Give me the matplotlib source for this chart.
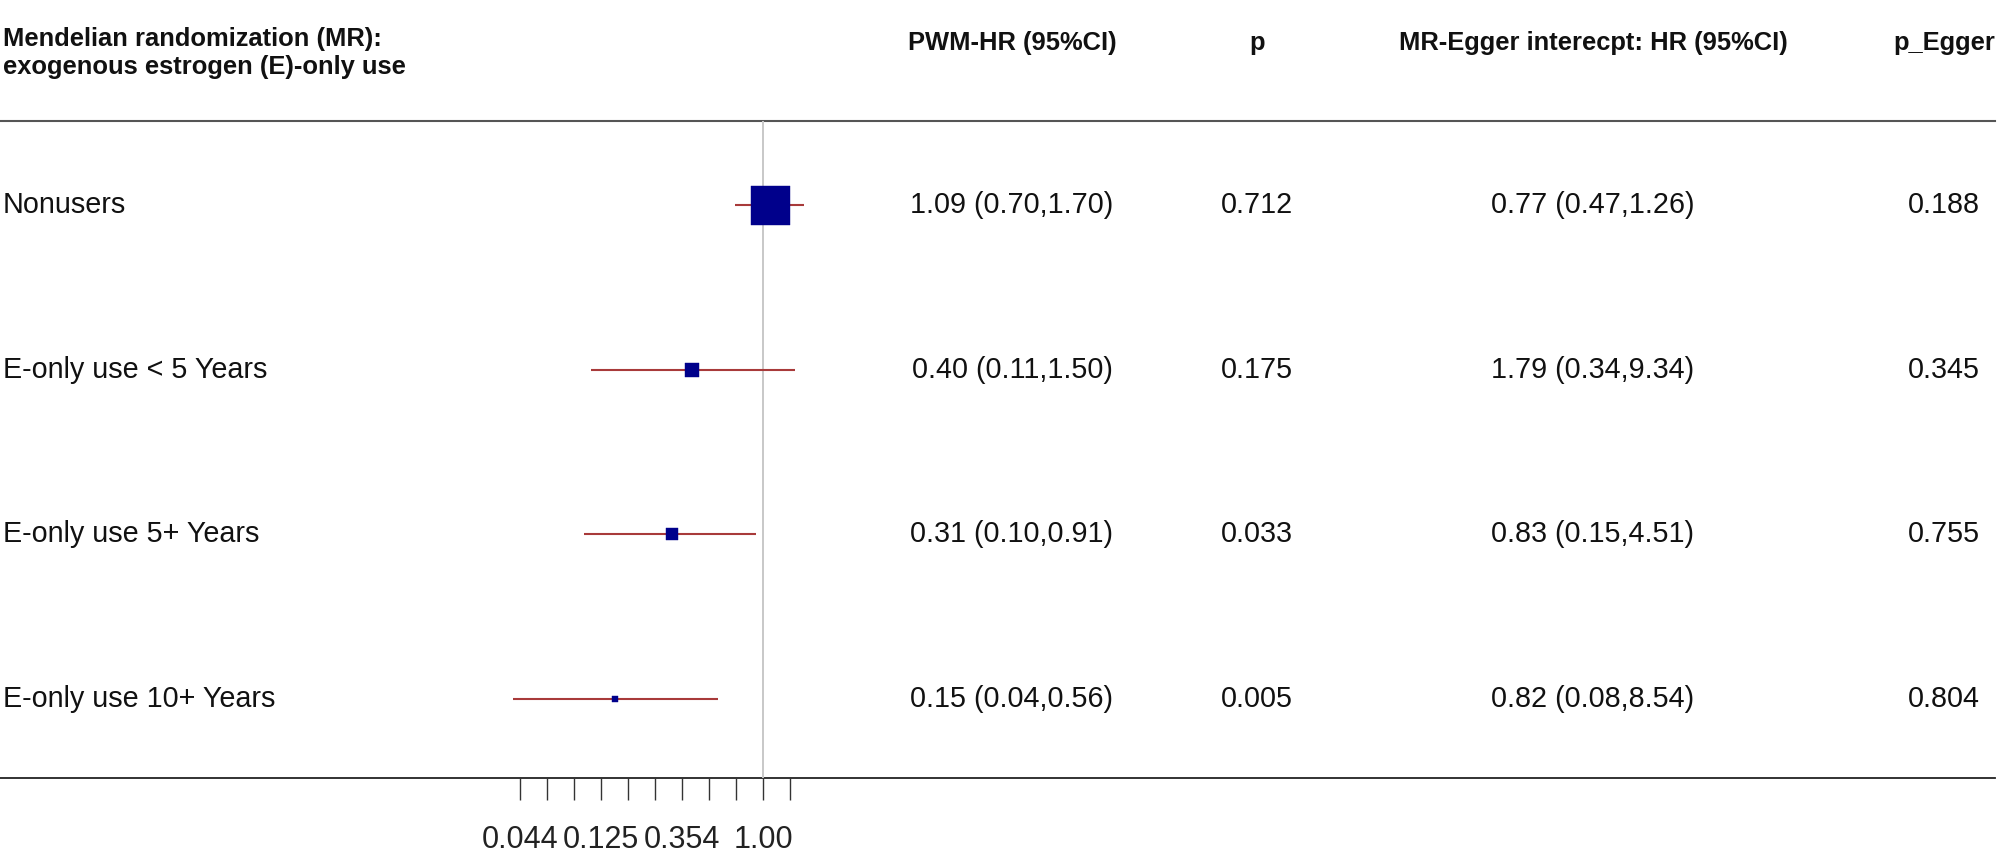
import numpy as np
import matplotlib
matplotlib.use("Agg")
import matplotlib.pyplot as plt
from matplotlib.ticker import FixedLocator, NullFormatter

plt.rcParams["font.family"] = ["Liberation Sans", "DejaVu Sans"]

# ---------------------------------------------------------------------------
# Data
# ---------------------------------------------------------------------------
title_lines = ["Mendelian randomization (MR):", "exogenous estrogen (E)-only use"]
col_headers = ["PWM-HR (95%CI)", "p", "MR-Egger interecpt: HR (95%CI)", "p_Egger"]

labels = ["Nonusers", "E-only use < 5 Years", "E-only use 5+ Years",
          "E-only use 10+ Years"]
hr = [1.09, 0.40, 0.31, 0.15]
hr_lo = [0.70, 0.11, 0.10, 0.04]
hr_hi = [1.70, 1.50, 0.91, 0.56]
p_vals = ["0.712", "0.175", "0.033", "0.005"]

egger_hr = [0.77, 1.79, 0.83, 0.82]
egger_lo = [0.47, 0.34, 0.15, 0.08]
egger_hi = [1.26, 9.34, 4.51, 8.54]
p_egger = ["0.188", "0.345", "0.755", "0.804"]

tick_exp = [-4.5, -3.0, -1.5, 0.0]        # log2 positions of labelled ticks
tick_labels = ["0.044", "0.125", "0.354", "1.00"]

# box side in pixels (study weight)
box_px = [39, 14, 12, 6]

# ---------------------------------------------------------------------------
# Layout (pixels)
# ---------------------------------------------------------------------------
W, H = 2008, 865
DPI = 100
TOP, BOT = 121, 778            # header rule / bottom rule
FX0, FX1 = 466.5, 816.9        # forest panel extent
Y_TOP, Y_BOT = 0.49, 4.48      # row-space limits
col_x = [1012, 1257, 1593, 1944]

def fx(x):
    return x / W

def fy(y):
    return 1 - y / H

fig = plt.figure(figsize=(W / DPI, H / DPI), dpi=DPI)

# table axes (full width, rows share y with forest)
ax_t = fig.add_axes([0, fy(BOT), 1, (BOT - TOP) / H])
ax_t.set_xlim(0, W)
ax_t.set_ylim(Y_BOT, Y_TOP)
ax_t.axis("off")

# forest axes
ax = fig.add_axes([fx(FX0), fy(BOT), (FX1 - FX0) / W, (BOT - TOP) / H])
ax.set_xscale("log", base=2)
ax.set_xlim(2 ** -5.5, 2 ** 1.0)
ax.set_ylim(Y_BOT, Y_TOP)
ax.patch.set_alpha(0)
for s in ["top", "right", "left", "bottom"]:
    ax.spines[s].set_visible(False)
ax.set_yticks([])

# ticks
ax.xaxis.set_major_locator(FixedLocator([2 ** e for e in tick_exp]))
ax.set_xticklabels(tick_labels)
ax.xaxis.set_minor_locator(FixedLocator(
    [2 ** e for e in np.arange(-4.5, 0.51, 0.5) if e not in tick_exp]))
ax.xaxis.set_minor_formatter(NullFormatter())
ax.tick_params(axis="x", which="both", direction="out", length=16,
               width=1.0, color="#333333", pad=18, labelsize=22,
               labelcolor="#222222")

# reference line at HR = 1
ax.axvline(1.0, color="#c8c8c8", lw=1.4, zorder=1)

# CIs and boxes
ys = np.arange(1, len(labels) + 1)
for i, y in enumerate(ys):
    ax.plot([hr_lo[i], hr_hi[i]], [y, y], color="#a83a3a", lw=1.5, zorder=2,
            solid_capstyle="butt")
    ax.plot(hr[i], y, marker="s", ms=box_px[i] * 0.72, color="#00008b",
            mec="#00008b", mew=0.3, zorder=3)

# rules
ax_t.plot([0, 1995], [Y_TOP, Y_TOP], color="#555555", lw=1.5, clip_on=False)
ax_t.plot([0, 1995], [Y_BOT, Y_BOT], color="#222222", lw=1.3, clip_on=False)

# headers
fig.text(fx(3), fy(39), title_lines[0], fontsize=18.4, fontweight="bold",
         ha="left", va="center", color="#111111")
fig.text(fx(3), fy(67), title_lines[1], fontsize=18.4, fontweight="bold",
         ha="left", va="center", color="#111111")
for cx, h in zip(col_x, col_headers):
    fig.text(fx(cx), fy(43), h, fontsize=18.4, fontweight="bold",
             ha="center", va="center", color="#111111")

# row text
for i, y in enumerate(ys):
    ax_t.text(3, y, labels[i], fontsize=20.7, ha="left", va="center",
              color="#111111")
    ax_t.text(col_x[0], y, f"{hr[i]:.2f} ({hr_lo[i]:.2f},{hr_hi[i]:.2f})",
              fontsize=20.7, ha="center", va="center", color="#111111")
    ax_t.text(col_x[1], y, p_vals[i], fontsize=20.7, ha="center",
              va="center", color="#111111")
    ax_t.text(col_x[2], y,
              f"{egger_hr[i]:.2f} ({egger_lo[i]:.2f},{egger_hi[i]:.2f})",
              fontsize=20.7, ha="center", va="center", color="#111111")
    ax_t.text(col_x[3], y, p_egger[i], fontsize=20.7, ha="center",
              va="center", color="#111111")

fig.savefig("out.png", dpi=DPI)
